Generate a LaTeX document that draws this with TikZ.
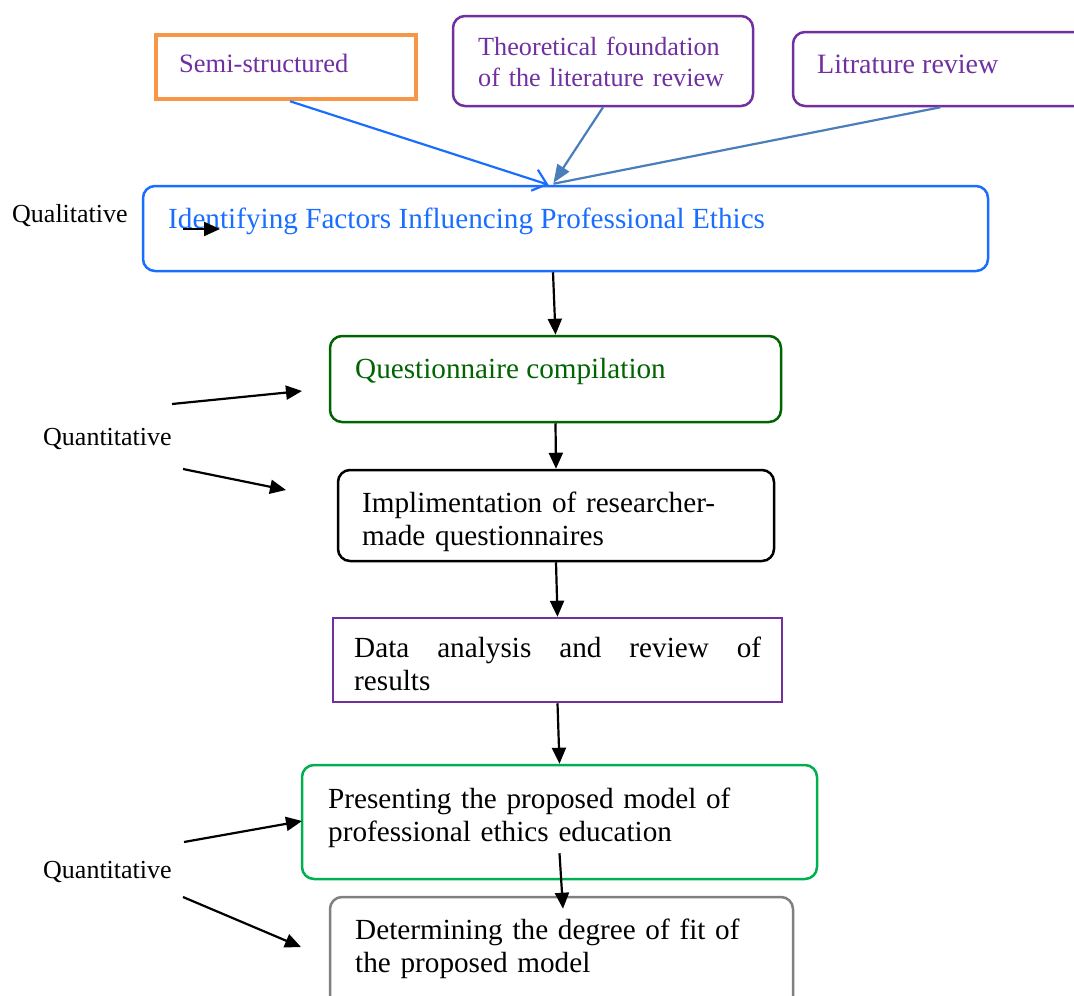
\documentclass[tikz,border=0pt]{standalone}
\usepackage{fontspec}
\setmainfont{Liberation Serif}
\usetikzlibrary{arrows.meta,calc}

\definecolor{semiorange}{HTML}{F79646}
\definecolor{litpurple}{HTML}{7030A0}
\definecolor{identblue}{RGB}{26,110,255}
\definecolor{linkblue}{HTML}{4A7EBB}
\definecolor{questgreen}{RGB}{0,100,0}
\definecolor{presgreen}{HTML}{00B050}
\definecolor{detgray}{HTML}{808080}

\begin{document}
\begin{tikzpicture}[x=1pt,y=-1pt,
  stage/.style={draw,line width=2.5pt,rounded corners=12pt,inner sep=0pt},
  plainstage/.style={draw,line width=2.5pt,inner sep=0pt},
  word/.style={inner sep=0pt,anchor=base west,align=left,font=\fontsize{29.2}{33}\selectfont},
  topword/.style={inner sep=0pt,anchor=base west,align=left,text=litpurple,font=\fontsize{26.2}{31}\selectfont},
  side/.style={inner sep=0pt,anchor=base west,font=\fontsize{26}{30}\selectfont},
  flow/.style={-{Triangle[length=16pt,width=14pt]},line width=2.2pt}]
\useasboundingbox (0,0) rectangle (1074,996);

% sources
\node[plainstage,draw=semiorange,line width=4.5pt,minimum width=260,minimum height=64] (semi) at (286,67) {};
\node[topword,font=\fontsize{26.5}{31}\selectfont] (semitxt) at (179,72) {Semi-structured};
\node[stage,draw=litpurple,minimum width=300,minimum height=90] (theo) at (603,61) {};
\node[topword,text width=280] (theotxt) at (478,55) {Theoretical foundation\\of the literature review};
\node[stage,draw=litpurple,minimum width=307,minimum height=74] (lit) at (946.5,69) {};
\node[topword,font=\fontsize{28}{31}\selectfont] (littxt) at (817,73) {Litrature review};

% stages
\node[stage,draw=identblue,minimum width=845,minimum height=85] (ident) at (565.5,228.5) {};
\node[word,text=identblue] (identtxt) at (168,228) {Identifying Factors Influencing Professional Ethics};
\node[stage,draw=questgreen,minimum width=451,minimum height=86] (quest) at (555.5,379) {};
\node[word,text=questgreen] (questtxt) at (355,378) {Questionnaire compilation};
\node[stage,draw=black,minimum width=436,minimum height=91] (impl) at (556,515.5) {};
\node[word,text width=400] (impltxt) at (362,512) {Implimentation of researcher-\\made questionnaires};
\node[plainstage,draw=litpurple,minimum width=449,minimum height=84] (data) at (557.5,660) {};
\node[word,text width=407] (datatxt) at (354,657) {Data\hfill analysis\hfill and\hfill review\hfill of\\results};
\node[stage,draw=presgreen,minimum width=515,minimum height=114] (pres) at (559.5,822) {};
\node[word,text width=460] (prestxt) at (328,808) {Presenting the proposed model of\\professional ethics education};
\node[stage,draw=detgray,minimum width=463,minimum height=113] (det) at (561.5,953.5) {};
\node[word,text width=420] (dettxt) at (355,939) {Determining the degree of fit of\\the proposed model};

% side labels
\node[side] (qual) at (12,222) {Qualitative};
\node[side] (quanta) at (43,445) {Quantitative};
\node[side] (quantb) at (43,878) {Quantitative};

% top links
\coordinate (meet) at ([xshift=-17pt]ident.north);
\draw[identblue,line width=2.2pt,-{Straight Barb[length=13pt,width=22pt]}] ([xshift=4pt]semi.south) -- (meet);
\draw[linkblue,line width=2.2pt,-{Triangle[length=18pt,width=14pt]}] (theo.south) -- ([xshift=5pt,yshift=2pt]meet);
\draw[linkblue,line width=2.2pt] ([xshift=-6pt]lit.south) -- ([xshift=5pt,yshift=1pt]meet);

% main flow
\draw[flow] ([xshift=-12.5pt]ident.south) -- (quest.north);
\draw[flow] (quest.south) -- (impl.north);
\draw[flow] (impl.south) -- (data.north);
\draw[flow] (data.south) -- (pres.north);
\coordinate (pdfrom) at ($(pres.south)+(0,-27)$);
\coordinate (pdto) at ($(det.north)+(1.5,13)$);
\draw[flow] (pdfrom) -- (pdto);

% side arrows
\coordinate (qa1) at (183,229);
\coordinate (qa2) at (220,229);
\draw[flow] (qa1) -- (qa2);
\coordinate (ua1) at (172,404);
\coordinate (ua2) at (302,391);
\coordinate (ub1) at (183,469);
\coordinate (ub2) at (286,490);
\draw[flow] (ua1) -- (ua2);
\draw[flow] (ub1) -- (ub2);
\coordinate (va1) at (184,842);
\coordinate (va2) at (302,821);
\coordinate (vb1) at (183,897);
\coordinate (vb2) at (301,947);
\draw[flow] (va1) -- (va2);
\draw[flow] (vb1) -- (vb2);
\end{tikzpicture}
\end{document}
